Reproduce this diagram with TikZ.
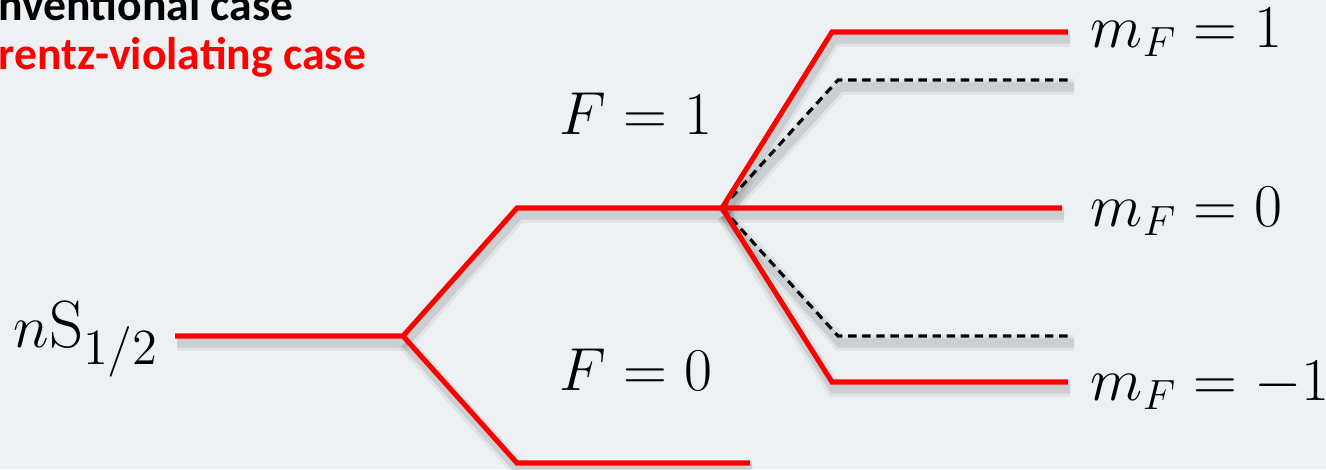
\documentclass[tikz,border=0pt]{standalone}
\usepackage{fontspec}
\newfontfamily\calibri{Carlito}
\usetikzlibrary{positioning,calc}
\definecolor{paper}{HTML}{EDF1F4}
\definecolor{lvred}{HTML}{FF0000}

\tikzset{
  redlevel/.style={draw=lvred,line width=1.45pt},
  dashlevel/.style={draw=black,line width=0.9pt,dash pattern=on 2.4pt off 1.6pt},
  lvshadow/.style={draw=black,line width=2.6pt,opacity=.12,transform canvas={xshift=0.02cm,yshift=-0.07cm}},
  lvlabel/.style={font=\fontsize{18}{20}\selectfont,inner sep=0pt},
}

\begin{document}
\begin{tikzpicture}[x=0.01cm,y=-0.01cm,font=\fontsize{13}{15}\selectfont]
\fill[paper] (0,0) rectangle (1326,469);
\useasboundingbox (0,0) rectangle (1326,469);

% legend (cut at the page edge)
\node[anchor=base west,inner sep=0pt,font=\fontsize{13}{15}\calibri\bfseries] (conv) at (-2,20) {nventional case};
\node[anchor=base west,inner sep=0pt,font=\fontsize{13}{15}\calibri\bfseries,text=lvred] (lorv) at (-2,69) {rentz-violating case};

% level points
\coordinate (s0) at (175,336);
\coordinate (s1) at (403,336);
\coordinate (f1a) at (517,208);
\coordinate (f1b) at (722,208);
\coordinate (f0a) at (517,463);
\coordinate (f0b) at (750,463);
\coordinate (mpa) at (832,32);
\coordinate (mpb) at (1068,32);
\coordinate (mzb) at (1062,208);
\coordinate (mma) at (832,382);
\coordinate (mmb) at (1068,382);
\coordinate (dpa) at (838,80);
\coordinate (dpb) at (1072,80);
\coordinate (dma) at (838,336);
\coordinate (dmb) at (1072,336);

% soft shadows
\foreach \w/\o in {4.5pt/.05,2.6pt/.09}{
  \draw[lvshadow,line width=\w,opacity=\o] (s0) -- (s1) -- (f1a) -- (f1b) -- (mzb);
  \draw[lvshadow,line width=\w,opacity=\o] (s1) -- (f0a) -- (f0b);
  \draw[lvshadow,line width=\w,opacity=\o] (f1b) -- (mpa) -- (mpb);
  \draw[lvshadow,line width=\w,opacity=\o] (f1b) -- (mma) -- (mmb);
  \draw[lvshadow,line width=\w,opacity=\o] (f1b) -- (dpa) -- (dpb);
  \draw[lvshadow,line width=\w,opacity=\o] (f1b) -- (dma) -- (dmb);
}

% conventional sublevels
\draw[dashlevel] (f1b) -- (dpa) -- (dpb);
\draw[dashlevel] (f1b) -- (dma) -- (dmb);

% Lorentz-violating levels
\draw[redlevel] (s0) -- (s1) -- (f1a) -- (f1b) -- (mzb);
\draw[redlevel] (s1) -- (f0a) -- (f0b);
\draw[redlevel] (f1b) -- (mpa) -- (mpb);
\draw[redlevel] (f1b) -- (mma) -- (mmb);

% labels
\node[lvlabel,anchor=east,font=\fontsize{19}{21}\selectfont] (ns) at ($(s0)+(-15,3)$) {$n\mathrm{S}_{1/2}$};
\node[lvlabel] (fone) at (636,114) {$F=1$};
\node[lvlabel] (fzero) at (636,370) {$F=0$};
\node[lvlabel,anchor=west] (mfp) at ($(mpb)+(22,0)$) {$m_F=1$};
\node[lvlabel,anchor=west] (mfz) at ($(mzb)+(28,3)$) {$m_F=0$};
\node[lvlabel,anchor=west] (mfm) at ($(mmb)+(22,3)$) {$m_F=-1$};
\end{tikzpicture}
\end{document}
